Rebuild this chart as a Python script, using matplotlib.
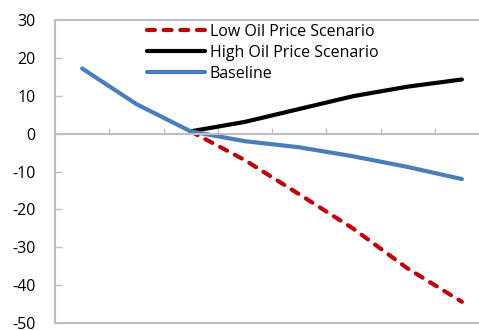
import matplotlib
matplotlib.use('Agg')
import matplotlib.pyplot as plt
import numpy as np

plt.rcParams['font.family'] = ['Open Sans', 'DejaVu Sans']
plt.rcParams['axes.unicode_minus'] = False

# values (8 periods)
periods = np.arange(8)
baseline = [17.2, 7.8, 0.6, -2.0, -3.6, -6.0, -8.8, -12.0]
high_oil = [np.nan, np.nan, 0.6, 3.1, 6.5, 9.9, 12.4, 14.3]
low_oil = [np.nan, np.nan, 0.6, -7.0, -16.0, -25.1, -35.6, -44.4]

grey = '#BFBFBF'

fig = plt.figure(figsize=(4.79, 3.30), dpi=100)
ax = fig.add_axes([55 / 479, 7 / 330, 434 / 479, 303 / 330])

ax.plot(periods, low_oil, color='#C00000', lw=3, ls=(0, (1.9, 2.1)),
        dash_capstyle='round', label='Low Oil Price Scenario')
ax.plot(periods, high_oil, color='black', lw=3, solid_capstyle='round',
        label='High Oil Price Scenario')
ax.plot(periods, baseline, color='#4A7EBB', lw=3, solid_capstyle='round',
        label='Baseline')

ax.set_xlim(-0.5, 7.5)
ax.set_ylim(-50, 30)
ax.set_yticks(range(-50, 31, 10))
ax.tick_params(axis='y', direction='in', length=5, color=grey, labelsize=11.5,
               pad=14, width=1)

# category axis sits on zero
ax.spines['bottom'].set_position(('data', 0))
ax.set_xticks(np.arange(0.5, 7, 1))
ax.set_xticklabels([])
ax.tick_params(axis='x', direction='in', length=4, color=grey, width=1)
ax.axhline(-50, color=grey, lw=1.5, clip_on=False)

for s in ax.spines.values():
    s.set_color(grey)
    s.set_linewidth(1.5)

ax.legend(loc='upper left', bbox_to_anchor=(0.198, 1.008), frameon=False,
          fontsize=11.5, handlelength=3.6, handletextpad=0.3, labelspacing=0.3,
          borderaxespad=0)

fig.savefig('out.png', dpi=100)
